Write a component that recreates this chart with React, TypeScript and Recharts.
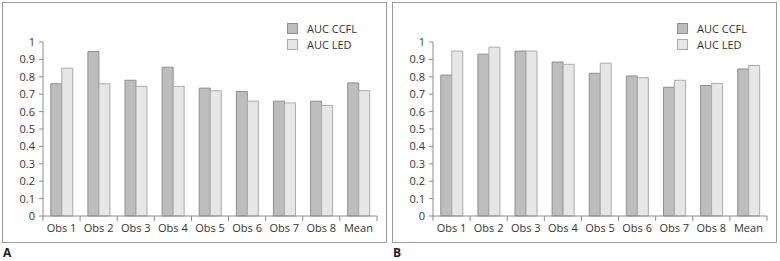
import React from "react"
import { Bar, BarChart, Legend, XAxis, YAxis } from "recharts"

const categories = ["Obs 1", "Obs 2", "Obs 3", "Obs 4", "Obs 5", "Obs 6", "Obs 7", "Obs 8", "Mean"]

// panel A
const ccflA = [0.76, 0.945, 0.78, 0.855, 0.735, 0.715, 0.66, 0.66, 0.765]
const ledA = [0.85, 0.76, 0.745, 0.745, 0.72, 0.66, 0.65, 0.635, 0.72]

// panel B
const ccflB = [0.81, 0.93, 0.948, 0.885, 0.82, 0.805, 0.74, 0.75, 0.845]
const ledB = [0.948, 0.97, 0.948, 0.872, 0.878, 0.795, 0.78, 0.762, 0.865]

const yTicks = [0, 0.1, 0.2, 0.3, 0.4, 0.5, 0.6, 0.7, 0.8, 0.9, 1]
const seriesNames = ["AUC CCFL", "AUC LED"]

const FONT = "'Open Sans', sans-serif"
const W = 383
const H = 239
const Y_AXIS_W = 40
const RIGHT = 9
const PLOT_W = W - Y_AXIS_W - RIGHT
const AXIS = "#8c8c8c"

const CCFL_FILL = "#bdbdbd"
const CCFL_STROKE = "#8e8e8e"
const LED_FILL = "#e6e6e6"
const LED_STROKE = "#ababab"

function CategoryTick(props: any) {
  const { x, y, payload, index } = props
  const bw = PLOT_W / categories.length
  return (
    <g>
      <line x1={x - bw / 2} x2={x - bw / 2} y1={y} y2={y + 5} stroke={AXIS} />
      {index === categories.length - 1 && (
        <line x1={x + bw / 2} x2={x + bw / 2} y1={y} y2={y + 5} stroke={AXIS} />
      )}
      <text x={x} y={y + 11} textAnchor="middle" dominantBaseline="central" fontSize={11} fill="#333" fontFamily={FONT}>
        {payload.value}
      </text>
    </g>
  )
}

function LegendBox() {
  const fills = [CCFL_FILL, LED_FILL]
  const strokes = [CCFL_STROKE, LED_STROKE]
  return (
    <div style={{ fontFamily: FONT, fontSize: 11, color: "#333" }}>
      {seriesNames.map((n, i) => (
        <div key={n} style={{ display: "flex", alignItems: "center", height: 16 }}>
          <span
            style={{
              display: "inline-block",
              width: 9,
              height: 9,
              background: fills[i],
              border: `1px solid ${strokes[i]}`,
              marginRight: 9,
            }}
          />
          <span>{n}</span>
        </div>
      ))}
    </div>
  )
}

function Panel({ left, letter, ccfl, led }: { left: number; letter: string; ccfl: number[]; led: number[] }) {
  const data = categories.map((c, i) => ({ name: c, ccfl: ccfl[i], led: led[i] }))
  return (
    <>
      <div
        style={{
          position: "absolute",
          left,
          top: 2,
          width: W + 2,
          height: H + 2,
          border: "1px solid #9a9a9a",
          boxSizing: "border-box",
          background: "#fff",
        }}
      >
        <BarChart
          width={W}
          height={H}
          data={data}
          margin={{ top: 39, right: RIGHT, bottom: 0, left: 0 }}
          barCategoryGap="21%"
          barGap={0}
        >
          <XAxis
            dataKey="name"
            height={26}
            stroke={AXIS}
            tickLine={false}
            tickSize={0}
            tickMargin={0}
            tick={<CategoryTick />}
            interval={0}
          />
          <YAxis
            width={Y_AXIS_W}
            domain={[0, 1]}
            ticks={yTicks}
            interval={0}
            stroke={AXIS}
            tickSize={4}
            tickMargin={4}
            tick={{ fontSize: 11, fill: "#333", fontFamily: FONT }}
          />
          <Legend
            layout="vertical"
            align="center"
            verticalAlign="middle"
            wrapperStyle={{ top: 17, left: 284, width: 90 }}
            content={() => <LegendBox />}
          />
          <Bar dataKey="ccfl" name={seriesNames[0]} fill={CCFL_FILL} stroke={CCFL_STROKE} strokeWidth={1} isAnimationActive={false} />
          <Bar dataKey="led" name={seriesNames[1]} fill={LED_FILL} stroke={LED_STROKE} strokeWidth={1} isAnimationActive={false} />
        </BarChart>
      </div>
      <div
        style={{
          position: "absolute",
          left: left + 1,
          top: 244,
          fontFamily: FONT,
          fontWeight: 700,
          fontSize: 12,
          color: "#222",
        }}
      >
        {letter}
      </div>
    </>
  )
}

export default function App() {
  return (
    <div style={{ position: "absolute", left: 0, top: 0, width: 780, height: 261, background: "#fff" }}>
      <Panel left={2} letter="A" ccfl={ccflA} led={ledA} />
      <Panel left={392} letter="B" ccfl={ccflB} led={ledB} />
    </div>
  )
}
